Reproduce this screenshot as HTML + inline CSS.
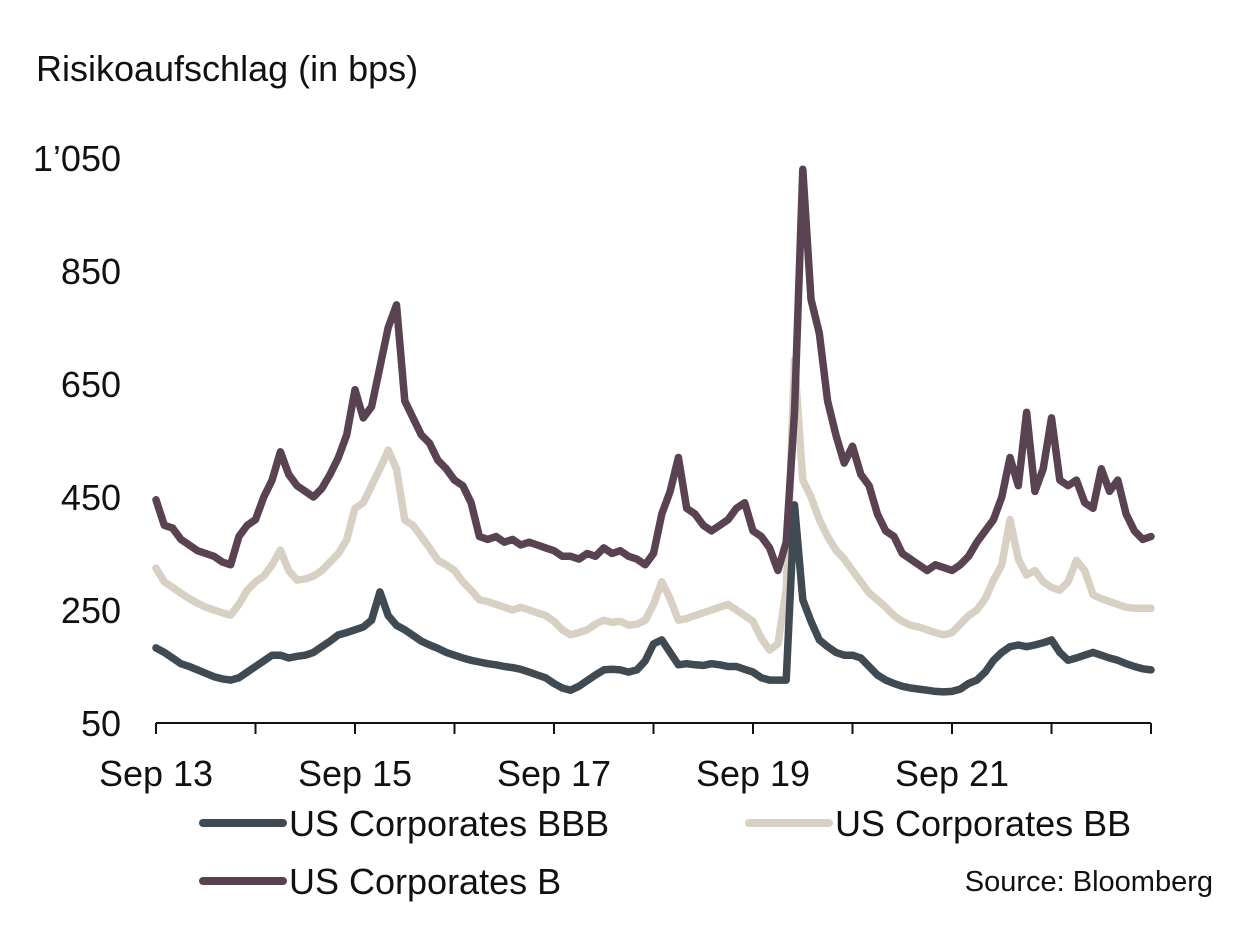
<!DOCTYPE html>
<html><head><meta charset="utf-8">
<style>
body{margin:0;background:#fff;}
svg{display:block;font-family:"Liberation Sans",Arial,sans-serif;}
</style></head>
<body>
<svg id="chart" width="1249" height="949" viewBox="0 0 1249 949" xmlns="http://www.w3.org/2000/svg">
<text x="36" y="81" font-size="36" fill="#111">Risikoaufschlag (in bps)</text>
<g id="yticks"></g>
<g id="xticks"></g>
<g id="series"></g>
<g>
<line x1="203" y1="823" x2="283" y2="823" stroke="#3f4a52" stroke-width="8" stroke-linecap="round"/>
<text x="289" y="836" font-size="36" fill="#111">US Corporates BBB</text>
<line x1="749" y1="823" x2="829" y2="823" stroke="#d9d0c4" stroke-width="8" stroke-linecap="round"/>
<text x="835" y="836" font-size="36" fill="#111">US Corporates BB</text>
<line x1="203" y1="881" x2="283" y2="881" stroke="#594251" stroke-width="8" stroke-linecap="round"/>
<text x="289" y="894" font-size="36" fill="#111">US Corporates B</text>
</g>
<text x="1213" y="891" font-size="29" fill="#111" text-anchor="end">Source: Bloomberg</text>
</svg>
<script>
const yTicks = [50, 250, 450, 650, 850, 1050];
const yTickLabels = ["50", "250", "450", "650", "850", "1’050"];
const xTickLabels = ["Sep 13", "Sep 15", "Sep 17", "Sep 19", "Sep 21"];
const xTickYears = [0, 2, 4, 6, 8];
const seriesB = [445,400,395,375,365,355,350,345,335,330,380,400,410,450,480,530,490,470,460,450,465,490,520,560,640,590,610,680,750,790,620,590,560,545,515,500,480,470,440,380,375,380,370,375,365,370,365,360,355,345,345,340,350,345,360,350,355,345,340,330,350,420,460,520,430,420,400,390,400,410,430,440,390,380,360,320,370,600,1030,800,740,620,560,510,540,490,470,420,390,380,350,340,330,320,330,325,320,330,345,370,390,410,450,520,470,600,460,500,590,480,470,480,440,430,500,460,480,420,390,375,380];
const seriesBB = [324,300,290,280,270,262,255,250,245,241,260,285,300,310,330,356,320,303,305,310,320,335,350,374,430,440,470,500,533,500,409,400,380,360,338,330,320,300,285,268,265,260,255,250,255,250,245,240,230,215,206,210,215,225,232,228,230,223,225,232,260,300,270,232,235,240,245,250,255,260,250,240,230,200,179,190,285,692,480,450,410,380,356,340,320,300,280,268,255,240,230,223,220,215,210,206,210,225,240,250,270,303,330,410,340,312,320,300,290,285,300,338,320,277,270,265,260,255,253,253,253];
const seriesBBB = [183,175,165,155,150,144,138,132,128,126,130,140,150,160,170,170,165,168,170,175,185,195,206,210,215,220,232,282,240,223,215,205,195,188,182,175,170,165,161,158,155,153,150,148,145,140,135,130,120,112,108,115,125,135,144,145,144,140,144,160,190,197,175,153,155,153,152,155,153,150,150,145,140,130,126,126,126,436,268,230,197,185,175,170,170,165,150,135,126,120,115,112,110,108,106,105,106,110,120,126,140,161,175,185,188,185,188,192,197,175,161,165,170,175,170,165,161,155,150,146,144];

const NS = "http://www.w3.org/2000/svg";
const X0 = 156, PX_PER_YEAR = 99.5;
const Y50 = 723, PX_PER_BP = 0.565;
function xScale(monthIndex){ return X0 + monthIndex * PX_PER_YEAR / 12; }
function yScale(v){ return Y50 - (v - 50) * PX_PER_BP; }

const yg = document.getElementById('yticks');
yTicks.forEach((v, i) => {
  const t = document.createElementNS(NS, 'text');
  
  
  t.setAttribute('x', 121);
  t.setAttribute('y', yScale(v) + 13);
  t.setAttribute('font-size', '36');
  t.setAttribute('text-anchor', 'end');
  t.setAttribute('fill', '#111');
  t.textContent = yTickLabels[i];
  yg.appendChild(t);
});

const xg = document.getElementById('xticks');
const axis = document.createElementNS(NS, 'line');


axis.setAttribute('x1', X0); axis.setAttribute('x2', 1151);
axis.setAttribute('y1', Y50); axis.setAttribute('y2', Y50);
axis.setAttribute('stroke', '#111'); axis.setAttribute('stroke-width', '2');
xg.appendChild(axis);
for (let yr = 0; yr <= 2; yr++) {
  const tk = document.createElementNS(NS, 'line');
  
  
  const x = xScale(yr * 48);
  tk.setAttribute('x1', x); tk.setAttribute('x2', x);
  tk.setAttribute('y1', Y50); tk.setAttribute('y2', Y50 + 11);
  tk.setAttribute('stroke', '#111'); tk.setAttribute('stroke-width', '2');
  xg.appendChild(tk);
}
for (let yr = 1; yr <= 10; yr++) {
  if (yr % 4 === 0) continue;
  const tk = document.createElementNS(NS, 'line');
  
  
  const x = xScale(yr * 12);
  tk.setAttribute('x1', x); tk.setAttribute('x2', x);
  tk.setAttribute('y1', Y50); tk.setAttribute('y2', Y50 + 11);
  tk.setAttribute('stroke', '#111'); tk.setAttribute('stroke-width', '2');
  xg.appendChild(tk);
}
xTickLabels.forEach((lab, i) => {
  const t = document.createElementNS(NS, 'text');
  
  
  t.setAttribute('x', xScale(xTickYears[i] * 12));
  t.setAttribute('y', 786);
  t.setAttribute('font-size', '36');
  t.setAttribute('text-anchor', 'middle');
  t.setAttribute('fill', '#111');
  t.textContent = lab;
  xg.appendChild(t);
});

const sg = document.getElementById('series');
function drawLine(data, color, name){
  const p = document.createElementNS(NS, 'polyline');
  
  
  p.setAttribute('points', data.map((v, i) => xScale(i).toFixed(1) + ',' + yScale(v).toFixed(1)).join(' '));
  p.setAttribute('fill', 'none');
  p.setAttribute('stroke', color);
  p.setAttribute('stroke-width', '7.5');
  p.setAttribute('stroke-linejoin', 'round');
  p.setAttribute('stroke-linecap', 'round');
  sg.appendChild(p);
}
drawLine(seriesBB, '#d9d0c4', 'line-us-corporates-bb');
drawLine(seriesBBB, '#3f4a52', 'line-us-corporates-bbb');
drawLine(seriesB, '#594251', 'line-us-corporates-b');
</script>
</body></html>
